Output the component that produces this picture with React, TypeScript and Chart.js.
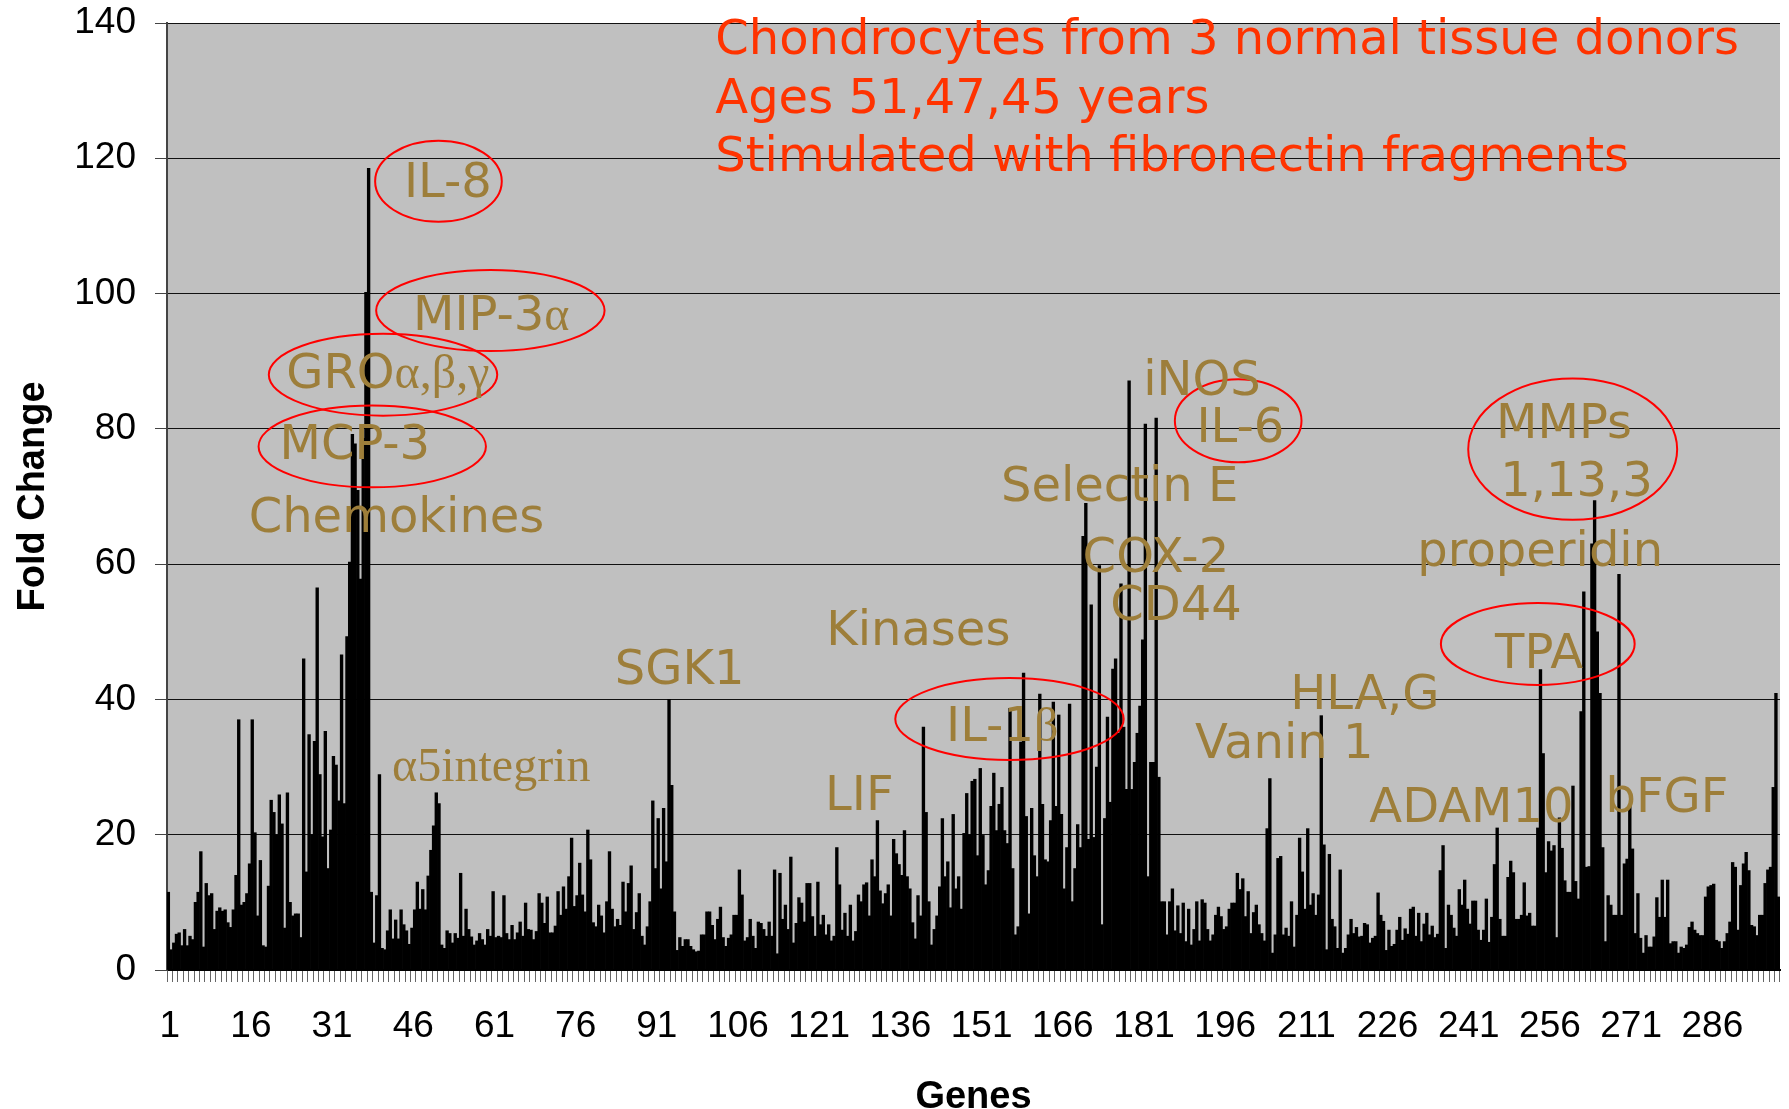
import React, { useEffect, useRef } from 'react';
import { Chart, registerables } from 'chart.js';

Chart.register(...registerables);

// ---------- data ----------
const geneCount = 298;
const geneLabels: string[] = Array.from({ length: geneCount }, (_, i) => String(i + 1));
const labelEvery = 15;
const yMin = 0;
const yMax = 140;
const yStep = 20;

// two bars per gene (left / right)
const seriesA: number[] = [
  11.5, 4, 5.5, 6, 5,
  10, 17.5, 12.8, 11.3, 8.7,
  8.7, 7, 8.9, 37, 10,
  15.7, 20.3, 16.2, 3.4, 25.1,
  20, 21.6, 26.2, 8, 8.3,
  46, 34.8, 33.8, 28.9, 35.3,
  20.7, 30.3, 46.6, 49.3, 79.2,
  70.9, 78.6, 118.5, 4, 28.9,
  3, 8.9, 7.4, 8.9, 5.8,
  6.2, 13, 11.9, 13.9, 21.3,
  24.6, 3.2, 5.4, 5.4, 14.3,
  9, 4.9, 4.3, 4.5, 6,
  11.6, 5, 11, 4.5, 4.5,
  7.1, 9.9, 5.9, 5.7, 9.9,
  10.8, 5.5, 11.6, 12.3, 13.8,
  9.4, 15.8, 8.6, 16.3, 6.4,
  8, 10.1, 9, 7.5, 13,
  12.8, 6, 11.3, 3.7, 10.1,
  15, 12, 16, 27.3, 2.9,
  3.5, 4.5, 3, 2.8, 5.2,
  8.6, 4.5, 9.3, 3.5, 5.2,
  8.1, 11.1, 4.8, 5, 7.1,
  6, 7.1, 14.8, 14.3, 9.6,
  16.7, 6.9, 9.9, 12.8, 7.9,
  13, 8.1, 6.7, 5, 12.6,
  8.4, 9.6, 5.7, 10.1, 12.9,
  16.3, 22.1, 9.8, 12.6, 19.3,
  15.6, 20.6, 12, 4.6, 8,
  23.3, 3.7, 8, 22.4, 16,
  23, 13.8, 20.2, 20, 28.2,
  29.8, 12.6, 24.2, 20.6, 27,
  18.7, 15, 6.4, 43.9, 8.3,
  16.9, 40.8, 16.3, 22.1, 24.2,
  23, 18.1, 10.1, 21.5, 64.1,
  19.3, 19.6, 59.8, 22.4, 24.8,
  46, 57.1, 26.7, 26.7, 35,
  48.8, 13.8, 30.7, 28.5, 10.1,
  10.1, 5.8, 5.4, 4.2, 3.7,
  10.1, 10.4, 6, 5.2, 9.3,
  6, 9, 9.9, 11.9, 7.9,
  5.4, 9.6, 5.4, 20.9, 2.5,
  16.5, 5.2, 5, 3.4, 19.5,
  9, 9.6, 8.1, 37.6, 3,
  7.5, 3.2, 2.5, 5.2, 5.4,
  4.9, 6.9, 4, 5, 8.1,
  2.9, 3.5, 5.9, 4.4, 5.3,
  9.3, 8.4, 6.8, 5.2, 4.8,
  14.7, 3.2, 8.1, 5, 9.6,
  9, 10.2, 5.9, 5.9, 4.1,
  15.6, 7.5, 5, 16.1, 7.5,
  8.1, 8, 6.5, 21, 32,
  19, 18.4, 22.5, 13.2, 11.5,
  13.1, 38.2, 15.2, 63, 50,
  18.1, 11, 8.1, 58.5, 15.7,
  24.3, 5.4, 4.7, 5.1, 3.4,
  10.7, 13.3, 13.3, 4.2, 2.5,
  3.2, 6.3, 5.9, 5.1, 10.8,
  12.5, 4.4, 3.2, 5.4, 15.9,
  5.9, 15.7, 14.7, 6.4, 8.1,
  12.8, 15.2, 40.9,
];

const seriesB: number[] = [
  3, 5.3, 3.6, 3.6, 4.5,
  11.5, 3.4, 11, 6, 9.2,
  8.9, 6.3, 14, 9.6, 11.3,
  37, 8, 3.6, 12.4, 23.3,
  25.9, 6.2, 10, 8.3, 4.8,
  14.5, 20, 56.5, 19.7, 15,
  31.6, 25, 24.6, 60.3, 77.8,
  57.8, 100.2, 11.5, 11, 3.2,
  5.8, 4.6, 4.6, 6.7, 3.8,
  8.9, 9, 8.9, 17.7, 26.2,
  3.7, 5.8, 4, 4.7, 5,
  6, 3.7, 5.4, 3.7, 5,
  4.8, 4.8, 5.4, 6.6, 5.5,
  5, 6, 4.5, 11.3, 6.9,
  5.5, 6.5, 8.1, 9, 19.5,
  11, 11.1, 20.7, 7, 9.6,
  5.5, 17.5, 6.4, 6.6, 8.6,
  15.4, 8.5, 5, 6.4, 25,
  22.4, 23.9, 40, 8.6, 4.8,
  4.5, 3.5, 2.7, 5.2, 8.6,
  6.6, 7.5, 4.8, 4.7, 8.1,
  14.8, 4.3, 7.5, 3.2, 6.9,
  5, 5, 2.4, 7.5, 6,
  4, 10.7, 7.1, 12.8, 5,
  6.7, 5.2, 4.3, 18.1, 5.9,
  5, 4.3, 11.1, 12.6, 8,
  13.8, 11.7, 11.3, 8, 17.2,
  14, 13.8, 7, 11, 35.9,
  10.1, 6, 12.3, 13.8, 9.2,
  12, 9, 26.1, 27.9, 16.9,
  19.9, 14.7, 29.1, 24.5, 20.6,
  38.7, 5.2, 33.7, 22.7, 23.9,
  13.8, 24.5, 16, 39.6, 37.7,
  12, 39.3, 15, 18.1, 69,
  54, 30, 6.7, 37.4, 44.5,
  35, 35.9, 87.1, 30.7, 39,
  80.7, 30.7, 81.6, 10.1, 5.2,
  12, 9.5, 9.9, 9, 6,
  4.3, 9.9, 4.3, 8.1, 7.9,
  6.4, 9.9, 14.3, 13.5, 11.6,
  8.5, 6.7, 4.3, 28.3, 5.2,
  16.8, 6.2, 10.1, 8.1, 14.5,
  20.9, 11.3, 11.1, 18.5, 17.1,
  6.4, 14.8, 3.2, 7.5, 6.3,
  5, 6.7, 4.7, 11.4, 7.2,
  5.9, 3.8, 7.8, 6.1, 9,
  5, 4.2, 8.4, 6.5, 5.3,
  18.4, 9.6, 6.2, 11.9, 13.3,
  6.8, 10.2, 4.4, 10.5, 7.8,
  21, 5, 13.7, 14.4, 7.5,
  12.9, 8.4, 6.5, 44.4, 14.4,
  17.6, 4.8, 18, 11.5, 27.2,
  10.5, 55.9, 15.3, 69.4, 40.9,
  4.2, 9.6, 8.1, 8.1, 16.4,
  17.9, 11.3, 2.5, 3.4, 4.9,
  7.8, 7.8, 3.9, 4.2, 3.4,
  3.7, 7.1, 5.4, 5.1, 12.3,
  12.7, 4.2, 4.2, 7.1, 15.2,
  12.5, 17.4, 6.6, 5.1, 8.1,
  14.8, 27, 10.8,
];

// annotation texts (placed in data coordinates: gene index, fold change)
type Part = [string, 'sans' | 'serif'];
const geneNotes: { parts: Part[]; gene: number; fold: number }[] = [
  { parts: [['IL-8', 'sans']], gene: 51.4, fold: 116.15 },
  { parts: [['MIP-3', 'sans'], ['α', 'serif']], gene: 59.4, fold: 96.45 },
  { parts: [['GRO', 'sans'], ['α,β,γ', 'serif']], gene: 40.3, fold: 87.85 },
  { parts: [['MCP-3', 'sans']], gene: 34.2, fold: 77.35 },
  { parts: [['Chemokines', 'sans']], gene: 41.9, fold: 66.55 },
  { parts: [['α5integrin', 'serif']], gene: 59.4, fold: 29.85 },
  { parts: [['SGK1', 'sans']], gene: 94.2, fold: 44.15 },
  { parts: [['Kinases', 'sans']], gene: 138.3, fold: 49.85 },
  { parts: [['LIF', 'sans']], gene: 127.4, fold: 25.45 },
  { parts: [['IL-1', 'sans'], ['β', 'serif']], gene: 153.8, fold: 35.75 },
  { parts: [['Selectin E', 'sans']], gene: 175.5, fold: 71.15 },
  { parts: [['iNOS', 'sans']], gene: 190.7, fold: 86.85 },
  { parts: [['IL-6', 'sans']], gene: 197.8, fold: 79.85 },
  { parts: [['COX-2', 'sans']], gene: 182.2, fold: 60.65 },
  { parts: [['CD44', 'sans']], gene: 185.9, fold: 53.65 },
  { parts: [['HLA,G', 'sans']], gene: 220.8, fold: 40.45 },
  { parts: [['Vanin 1', 'sans']], gene: 205.9, fold: 33.25 },
  { parts: [['ADAM10', 'sans']], gene: 240.5, fold: 23.75 },
  { parts: [['TPA', 'sans']], gene: 253.0, fold: 46.55 },
  { parts: [['MMPs', 'sans']], gene: 257.6, fold: 80.45 },
  { parts: [['1,13,3', 'sans']], gene: 259.9, fold: 71.95 },
  { parts: [['properidin', 'sans']], gene: 253.2, fold: 61.55 },
  { parts: [['bFGF', 'sans']], gene: 276.6, fold: 25.25 },
];

// red ellipses (centre gene, centre fold, radius in genes, radius in fold)
const circles = [
  { gene: 49.65, fold: 116.6, rGene: 11.7, rFold: 6.0 },
  { gene: 59.24, fold: 97.5, rGene: 21.1, rFold: 6.0 },
  { gene: 39.41, fold: 88.0, rGene: 21.1, rFold: 6.05 },
  { gene: 37.42, fold: 77.4, rGene: 21.0, rFold: 6.05 },
  { gene: 155.15, fold: 37.1, rGene: 21.1, rFold: 6.05 },
  { gene: 197.4, fold: 81.2, rGene: 11.7, rFold: 6.15 },
  { gene: 252.75, fold: 48.2, rGene: 17.9, rFold: 6.05 },
  { gene: 259.2, fold: 77.0, rGene: 19.3, rFold: 10.45 },
];

const studyLines = [
  'Chondrocytes from 3 normal tissue donors',
  'Ages 51,47,45 years',
  'Stimulated with fibronectin fragments',
];
const studyGene = 100.8;
const studyFolds = [137.2, 128.5, 120.0];

// ---------- plugins ----------
const plotBackground = {
  id: 'plotBackground',
  beforeDraw(chart: any) {
    const { ctx, chartArea } = chart;
    ctx.save();
    ctx.fillStyle = '#ffffff';
    ctx.fillRect(0, 0, chart.width, chart.height);
    ctx.fillStyle = '#c0c0c0';
    ctx.fillRect(chartArea.left, chartArea.top, chartArea.right - chartArea.left, chartArea.bottom - chartArea.top);
    ctx.restore();
  },
};

const gold = '#9d7e3a';
const fontFor = (k: 'sans' | 'serif') => (k === 'serif' ? '48px "Liberation Serif"' : '48px "DejaVu Sans"');

const annotations = {
  id: 'annotations',
  afterDatasetsDraw(chart: any) {
    const { ctx } = chart;
    const xs = chart.scales.x;
    const ys = chart.scales.y;
    const pitch = xs.getPixelForValue(1) - xs.getPixelForValue(0);
    const unit = ys.getPixelForValue(0) - ys.getPixelForValue(1);
    ctx.save();
    ctx.strokeStyle = '#ff0000';
    ctx.lineWidth = 2;
    for (const c of circles) {
      ctx.beginPath();
      ctx.ellipse(xs.getPixelForValue(c.gene), ys.getPixelForValue(c.fold), c.rGene * pitch, c.rFold * unit, 0, 0, Math.PI * 2);
      ctx.stroke();
    }
    ctx.textBaseline = 'middle';
    ctx.textAlign = 'left';
    ctx.fillStyle = gold;
    for (const n of geneNotes) {
      const widths = n.parts.map(([t, k]) => {
        ctx.font = fontFor(k);
        return ctx.measureText(t).width;
      });
      const total = widths.reduce((a, b) => a + b, 0);
      let px = xs.getPixelForValue(n.gene) - total / 2;
      const py = ys.getPixelForValue(n.fold);
      n.parts.forEach(([t, k], i) => {
        ctx.font = fontFor(k);
        ctx.fillText(t, px, py);
        px += widths[i];
      });
    }
    ctx.fillStyle = '#ff3300';
    ctx.font = '48px "DejaVu Sans"';
    const sx = xs.getPixelForValue(studyGene);
    studyLines.forEach((line, i) => {
      ctx.fillText(line, sx, ys.getPixelForValue(studyFolds[i]));
    });
    ctx.restore();
  },
};

// ---------- component ----------
export default function App() {
  const canvasRef = useRef<HTMLCanvasElement | null>(null);

  useEffect(() => {
    const canvas = canvasRef.current;
    if (!canvas) return;
    const chart = new Chart(canvas, {
      type: 'bar',
      data: {
        labels: geneLabels,
        datasets: [
          { label: 'Left bar', data: seriesA, backgroundColor: '#000000', borderWidth: 0, categoryPercentage: 1, barPercentage: 1 },
          { label: 'Right bar', data: seriesB, backgroundColor: '#000000', borderWidth: 0, categoryPercentage: 1, barPercentage: 1 },
        ],
      },
      options: {
        animation: false,
        responsive: false,
        devicePixelRatio: 1,
        layout: { padding: { left: 0, right: 9, top: 23, bottom: 0 } },
        plugins: {
          legend: { display: false },
          tooltip: { enabled: false },
        },
        scales: {
          x: {
            grid: {
              display: true,
              drawOnChartArea: false,
              drawTicks: true,
              tickLength: 12,
              tickColor: '#666666',
              lineWidth: 1,
            },
            border: { display: true, color: '#000000', width: 2 },
            ticks: {
              autoSkip: false,
              maxRotation: 0,
              minRotation: 0,
              padding: 23,
              color: '#000000',
              font: { family: '"Liberation Sans", Arial, sans-serif', size: 37 },
              callback: (_v: any, i: number) => (i % labelEvery === 0 ? geneLabels[i] : ''),
            },
            title: {
              display: true,
              text: 'Genes',
              color: '#000000',
              font: { family: '"Liberation Sans", Arial, sans-serif', size: 38, weight: 'bold', lineHeight: 0.6 },
              padding: { top: 0, bottom: 0 },
            },
            afterFit: (scale: any) => {
              scale.height = 139;
              scale.paddingLeft = 0;
              scale.paddingRight = 0;
            },
          },
          y: {
            min: yMin,
            max: yMax,
            ticks: {
              stepSize: yStep,
              padding: 19,
              color: '#000000',
              font: { family: '"Liberation Sans", Arial, sans-serif', size: 37 },
            },
            grid: {
              color: '#111111',
              lineWidth: 1,
              drawTicks: true,
              tickLength: 12,
              tickColor: '#444444',
            },
            border: { display: true, color: '#444444', width: 2 },
            title: {
              display: true,
              text: 'Fold Change',
              color: '#000000',
              font: { family: '"Liberation Sans", Arial, sans-serif', size: 38, weight: 'bold', lineHeight: 1 },
              padding: { top: 15, bottom: 0 },
            },
            afterFit: (scale: any) => {
              scale.width = 167;
              scale.paddingTop = 0;
              scale.paddingBottom = 0;
            },
          },
        },
      } as any,
      plugins: [plotBackground, annotations],
    });
    return () => chart.destroy();
  }, []);

  return (
    <div style={{ position: 'fixed', left: 0, top: 0, width: 1789, height: 1109, background: '#ffffff' }}>
      <canvas ref={canvasRef} width={1789} height={1109} style={{ display: 'block', width: 1789, height: 1109 }} />
    </div>
  );
}
